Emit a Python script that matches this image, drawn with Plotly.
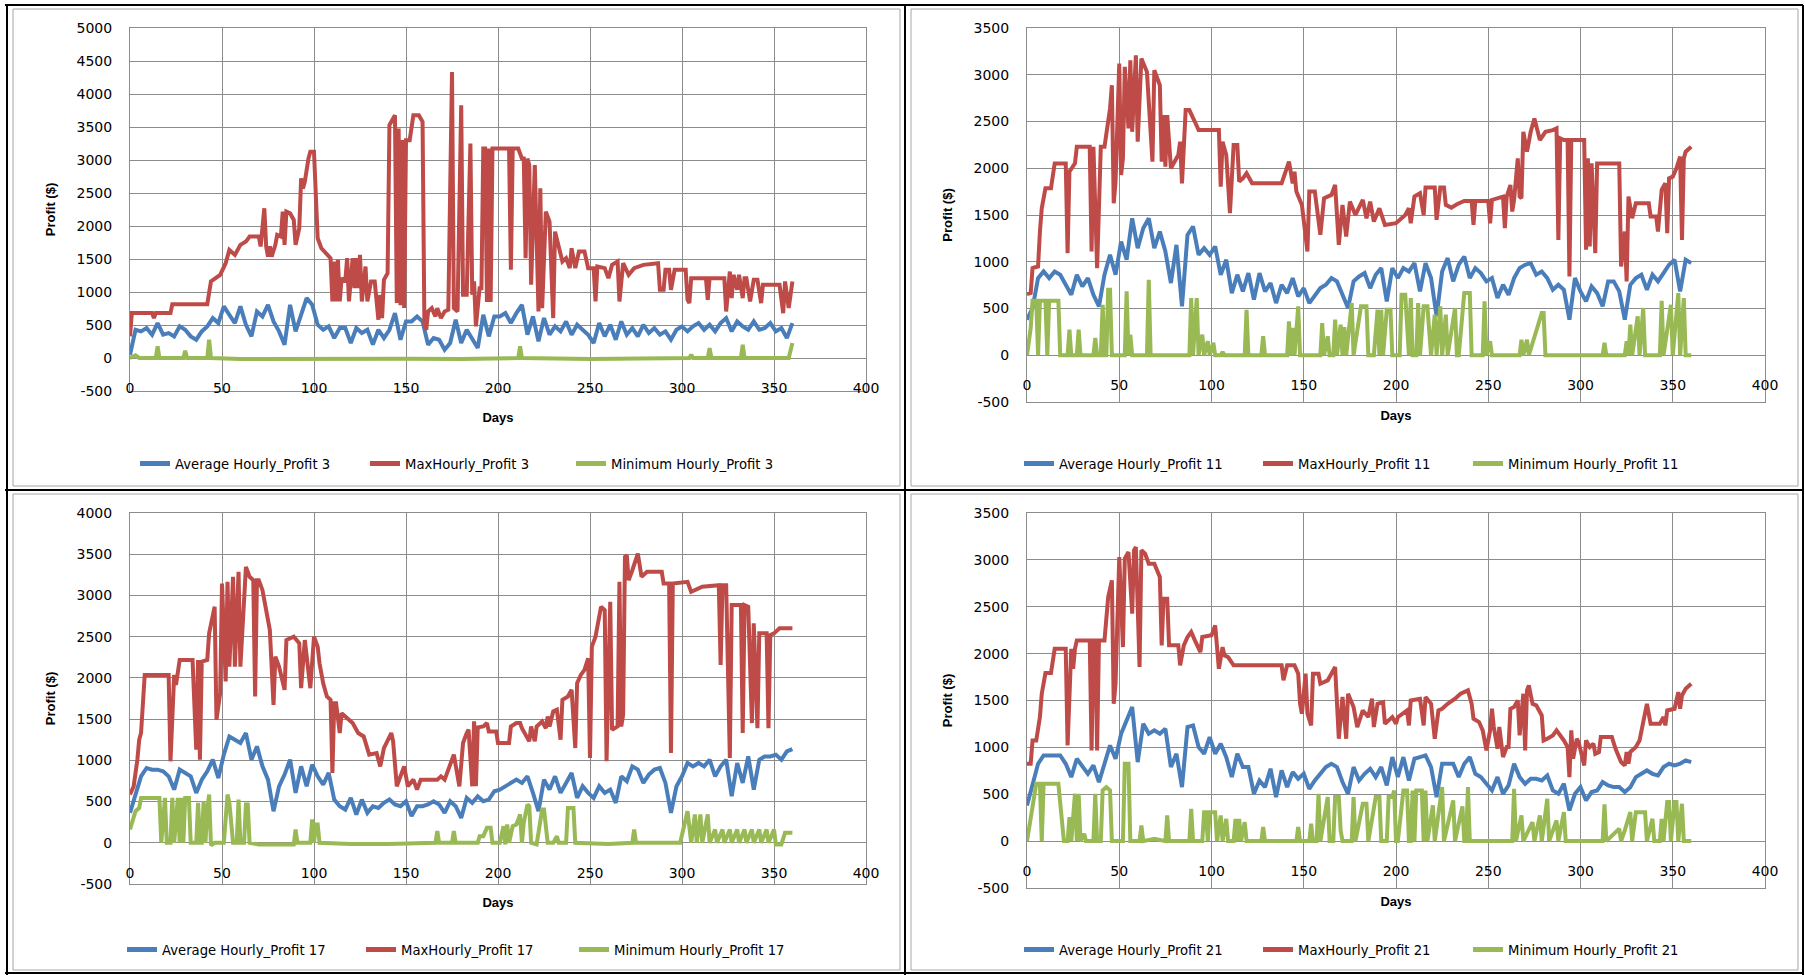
import plotly.graph_objects as go

# ---------------- data ----------------
days_avg = list(range(0, 361, 3))

avg_3 = [50, 428, 403, 454, 353, 529, 353, 378, 328, 479, 428, 328, 277, 403, 479, 605, 529, 781, 655, 529,
         781, 504, 328, 705, 630, 806, 554, 403, 202, 806, 403, 655, 907, 806, 504, 428, 479, 302, 454, 454,
         227, 454, 378, 428, 202, 428, 302, 428, 680, 277, 554, 554, 630, 554, 202, 302, 277, 126, 227, 580,
         227, 428, 277, 151, 655, 328, 630, 630, 680, 529, 680, 806, 353, 630, 252, 605, 353, 479, 403, 554,
         353, 504, 428, 353, 227, 529, 328, 504, 277, 554, 353, 454, 328, 504, 378, 454, 353, 403, 277, 428,
         479, 403, 479, 529, 428, 504, 403, 529, 605, 403, 554, 479, 428, 554, 428, 454, 529, 403, 454, 302, 529]

max_3 = [(0, 330), (1, 680), (12, 680), (13, 605), (14, 680), (22, 680), (23, 816), (42, 816), (44, 1160),
         (47, 1210), (49, 1260), (52, 1436), (54, 1638), (57, 1562), (60, 1714), (63, 1764), (65, 1840),
         (70, 1840), (71, 1690), (73, 2268), (74, 1690), (75, 1537), (76, 1690), (77, 1537), (79, 1714),
         (80, 1865), (82, 1840), (83, 2218), (84, 1714), (85, 2218), (87, 2192), (89, 2092), (90, 1714),
         (92, 1966), (93, 2722), (94, 2570), (95, 2671), (97, 3024), (98, 3125), (100, 3125), (101, 2369),
         (102, 1814), (104, 1663), (107, 1562), (109, 1512), (110, 857), (111, 1462), (112, 857), (113, 1487),
         (114, 857), (115, 1210), (117, 1160), (118, 1512), (119, 857), (121, 1512), (122, 1058), (123, 1512),
         (124, 1058), (125, 1562), (126, 857), (128, 1386), (129, 857), (131, 1160), (133, 1160), (135, 580),
         (136, 957), (137, 605), (138, 1184), (140, 1285), (141, 3528), (143, 3629), (144, 3679), (145, 832),
         (146, 3478), (147, 800), (148, 3301), (149, 756), (150, 3301), (152, 3301), (154, 3679), (157, 3679),
         (159, 3578), (160, 504), (161, 428), (162, 705), (164, 756), (166, 630), (167, 756), (169, 605),
         (171, 705), (173, 730), (175, 4334), (176, 756), (178, 705), (180, 3830), (181, 957), (183, 957),
         (185, 3250), (186, 957), (187, 1160), (188, 479), (190, 1058), (191, 1058), (192, 3175), (193, 3175),
         (194, 850), (195, 3175), (196, 850), (197, 3175), (206, 3175), (207, 1336), (208, 3175), (211, 3175),
         (213, 3024), (214, 3024), (215, 1512), (216, 3024), (217, 2923), (218, 1109), (220, 2923), (222, 705),
         (223, 2570), (224, 756), (226, 2218), (228, 2066), (230, 605), (231, 1915), (233, 1663), (235, 1462),
         (237, 1512), (239, 1361), (240, 1663), (242, 1361), (244, 1613), (247, 1613), (249, 1361), (252, 1361),
         (253, 857), (254, 1386), (258, 1361), (260, 1210), (262, 1411), (265, 1462), (266, 857), (268, 1436),
         (271, 1260), (274, 1361), (279, 1411), (284, 1436), (287, 1436), (288, 1033), (290, 1033), (291, 1336),
         (293, 1336), (294, 1033), (296, 1336), (302, 1336), (303, 882), (304, 832), (305, 1210), (313, 1210),
         (314, 882), (315, 1210), (323, 1210), (324, 705), (326, 1310), (327, 907), (328, 1260), (330, 1033),
         (331, 1260), (333, 907), (334, 1210), (335, 1210), (336, 1008), (337, 857), (339, 1184), (341, 1184),
         (343, 832), (344, 1109), (353, 1109), (355, 680), (356, 1160), (358, 756), (360, 1160)]

min_3 = [(0, 0), (3, 40), (5, 0), (14, 0), (15, 176), (16, 0), (29, 0), (30, 111), (31, 0), (42, 0), (43, 277),
         (44, 0), (60, -15), (90, -10), (120, -15), (150, -10), (180, -15), (211, 0), (212, 176), (213, 0),
         (250, -15), (280, -10), (304, 0), (305, 50), (306, 0), (314, 0), (315, 151), (316, 0), (332, 0),
         (333, 202), (334, 0), (358, 0), (360, 227)]

avg_11 = [381, 505, 825, 896, 825, 896, 861, 754, 647, 861, 736, 825, 647, 523, 861, 1074, 861, 1217, 1021, 1465,
          1145, 1359, 1465, 1145, 1323, 1110, 772, 1181, 523, 1288, 1377, 1074, 1145, 1074, 1163, 861, 1021, 665,
          861, 683, 879, 594, 879, 683, 772, 558, 754, 665, 825, 630, 718, 558, 647, 718, 754, 825, 790, 647, 505,
          790, 843, 879, 718, 861, 932, 576, 932, 825, 932, 896, 985, 683, 985, 825, 416, 896, 1039, 790, 968,
          1056, 825, 932, 879, 790, 825, 612, 754, 647, 825, 932, 968, 985, 861, 896, 825, 700, 754, 700, 381,
          825, 683, 576, 736, 665, 523, 790, 790, 683, 381, 754, 825, 861, 700, 861, 790, 879, 968, 1021, 683,
          1021, 985]

max_11 = [(0, 654), (2, 665), (3, 932), (6, 950), (7, 1323), (8, 1572), (10, 1786), (13, 1786), (15, 2052),
          (21, 2052), (22, 1092), (23, 1963), (26, 2052), (27, 2230), (34, 2230), (35, 1110), (36, 2230), (38, 932),
          (40, 2230), (42, 2230), (45, 2639), (46, 2888), (47, 1626), (48, 1857), (50, 3120), (51, 1928), (52, 2106),
          (53, 3084), (55, 2426), (56, 3155), (57, 2390), (59, 3208), (60, 2284), (62, 3173), (65, 3031), (68, 2070),
          (69, 3048), (72, 2888), (73, 2070), (74, 2568), (75, 2017), (76, 2568), (78, 2000), (80, 2070), (82, 2141),
          (83, 2284), (84, 1839), (86, 2622), (88, 2622), (91, 2497), (93, 2408), (104, 2408), (105, 1803),
          (106, 2284), (108, 2141), (110, 1519), (112, 2248), (114, 2248), (115, 1857), (117, 1892), (119, 1946),
          (122, 1839), (138, 1839), (142, 2070), (144, 1839), (145, 1963), (146, 1750), (149, 1608), (152, 1110),
          (153, 1750), (156, 1750), (159, 1288), (161, 1679), (165, 1715), (167, 1821), (169, 1181), (171, 1608),
          (173, 1270), (175, 1643), (178, 1501), (182, 1661), (184, 1465), (186, 1643), (188, 1430), (191, 1572),
          (194, 1394), (200, 1412), (205, 1501), (207, 1572), (208, 1412), (210, 1697), (213, 1732), (215, 1501),
          (216, 1793), (221, 1793), (222, 1448), (224, 1793), (226, 1793), (227, 1608), (230, 1579), (233, 1615),
          (237, 1650), (241, 1650), (242, 1394), (243, 1650), (250, 1650), (251, 1412), (252, 1661), (258, 1697),
          (259, 1359), (260, 1697), (262, 1821), (263, 1537), (264, 1661), (266, 2106), (267, 1697), (268, 1680),
          (269, 2390), (271, 2177), (273, 2390), (275, 2533), (278, 2301), (281, 2390), (285, 2408), (287, 2426),
          (288, 1234), (289, 2319), (291, 2301), (293, 2301), (294, 843), (295, 2301), (302, 2301), (303, 1128),
          (304, 2106), (305, 1163), (306, 2052), (308, 1092), (309, 2052), (321, 2052), (322, 950), (324, 1323),
          (325, 790), (326, 1697), (328, 1465), (330, 1625), (337, 1625), (338, 1483), (341, 1483), (342, 1323),
          (344, 1768), (346, 1839), (347, 1305), (348, 1892), (350, 1910), (352, 1999), (354, 2124), (355, 1234),
          (356, 2106), (357, 2177), (360, 2230)]

min_11 = [(0, 0), (2, 290), (3, 583), (5, 583), (6, 0), (7, 583), (10, 583), (11, 0), (12, 583), (17, 583), (18, 0),
          (22, 0), (23, 274), (24, 0), (27, 0), (28, 274), (29, 0), (36, 0), (37, 185), (38, 0), (40, 0), (41, 540),
          (42, 0), (43, 0), (44, 700), (45, 700), (46, 0), (53, 0), (54, 683), (55, 0), (56, 220), (57, 0), (65, 0),
          (66, 807), (67, 0), (88, 0), (89, 612), (90, 0), (92, 612), (93, 0), (95, 220), (96, 0), (98, 150),
          (99, 0), (101, 132), (102, 0), (105, 0), (106, 36), (107, 0), (118, 0), (119, 487), (120, 0), (127, 0),
          (128, 203), (129, 0), (141, 0), (142, 363), (143, 0), (144, 292), (145, 0), (147, 523), (148, 0),
          (159, 0), (160, 345), (161, 0), (163, 203), (164, 0), (166, 0), (167, 380), (168, 0), (170, 327),
          (171, 0), (172, 300), (173, 0), (176, 558), (177, 0), (181, 523), (184, 523), (185, 0), (188, 0),
          (190, 487), (191, 0), (192, 487), (193, 0), (195, 487), (197, 487), (198, 0), (202, 0), (203, 647),
          (205, 647), (207, 0), (208, 612), (209, 0), (211, 0), (212, 558), (213, 0), (215, 523), (217, 523),
          (219, 0), (221, 434), (222, 0), (224, 523), (225, 0), (227, 434), (228, 0), (232, 505), (233, 0),
          (234, 0), (237, 665), (240, 665), (241, 0), (247, 0), (248, 576), (249, 0), (251, 150), (252, 0),
          (267, 0), (268, 167), (269, 0), (271, 167), (272, 0), (279, 452), (280, 452), (281, 0), (312, 0),
          (313, 132), (314, 0), (324, 0), (325, 150), (326, 0), (327, 327), (328, 0), (331, 416), (332, 0),
          (334, 505), (335, 0), (343, 0), (344, 583), (345, 0), (349, 540), (350, 0), (353, 665), (354, 0),
          (356, 612), (357, 0), (360, 0)]

avg_17 = [363, 605, 806, 907, 887, 887, 867, 806, 645, 887, 847, 806, 605, 766, 867, 1008, 786, 1069, 1290, 1250,
          1210, 1331, 1008, 1169, 927, 766, 383, 685, 827, 1008, 605, 927, 685, 948, 806, 706, 847, 524, 443, 403,
          544, 343, 524, 363, 443, 423, 484, 524, 464, 443, 504, 323, 443, 443, 464, 504, 464, 363, 504, 443, 302,
          544, 484, 564, 504, 524, 625, 645, 685, 726, 766, 726, 806, 605, 383, 766, 645, 806, 605, 726, 847, 544,
          685, 605, 544, 685, 605, 645, 484, 806, 746, 927, 887, 726, 827, 887, 907, 726, 363, 685, 806, 968, 927,
          968, 927, 1008, 806, 927, 1008, 564, 968, 726, 1048, 645, 1008, 1048, 1048, 1069, 1008, 1109, 1137]

max_17 = [(0, 585), (2, 685), (4, 1008), (5, 1250), (6, 1331), (8, 2036), (21, 2036), (22, 988), (24, 2036),
          (25, 1915), (27, 2218), (34, 2218), (36, 1129), (37, 2218), (38, 1008), (39, 2197), (42, 2218), (43, 2540),
          (46, 2863), (47, 1492), (49, 1814), (50, 3145), (52, 1956), (53, 3165), (54, 2137), (56, 3226), (57, 2137),
          (59, 3286), (60, 2137), (63, 3347), (65, 3226), (67, 3185), (68, 1774), (69, 3185), (70, 3185), (72, 3064),
          (74, 2822), (76, 2580), (78, 1673), (79, 2258), (81, 2137), (84, 1855), (85, 2459), (89, 2500), (92, 2419),
          (93, 1875), (95, 2459), (98, 1875), (100, 2500), (102, 2379), (103, 2177), (105, 1935), (107, 1774),
          (109, 1734), (110, 847), (111, 1693), (112, 1693), (114, 1331), (115, 1572), (119, 1492), (121, 1452),
          (124, 1331), (127, 1290), (130, 1069), (134, 1089), (136, 927), (138, 1149), (142, 1331), (143, 1230),
          (145, 685), (147, 800), (149, 927), (151, 685), (154, 766), (156, 645), (158, 766), (167, 766), (169, 806),
          (171, 766), (174, 968), (176, 1069), (179, 685), (181, 1210), (183, 1331), (184, 1371), (186, 685),
          (187, 1472), (188, 685), (189, 1400), (192, 1411), (194, 1452), (195, 1351), (199, 1351), (200, 1210),
          (206, 1210), (207, 1411), (210, 1452), (212, 1452), (213, 1390), (217, 1230), (218, 1411), (220, 1230),
          (221, 1411), (224, 1472), (226, 1390), (227, 1532), (228, 1411), (230, 1593), (232, 1613), (234, 1250),
          (235, 1734), (238, 1774), (240, 1855), (242, 1149), (243, 1935), (245, 2036), (247, 2097), (249, 2238),
          (250, 1028), (251, 2379), (253, 2500), (256, 2863), (258, 2822), (259, 988), (261, 2923), (262, 1371),
          (265, 1411), (266, 3165), (267, 1411), (268, 1552), (269, 3468), (270, 3488), (271, 3185), (273, 3306),
          (276, 3508), (278, 3226), (281, 3286), (289, 3286), (290, 3145), (293, 3145), (294, 1089), (295, 3145),
          (303, 3165), (305, 3044), (307, 3064), (311, 3105), (320, 3125), (321, 2157), (322, 3125), (324, 3125),
          (326, 1028), (327, 2883), (332, 2883), (333, 1331), (334, 2883), (336, 2863), (338, 1452), (339, 2661),
          (341, 1391), (342, 2540), (346, 2540), (347, 1391), (348, 2520), (350, 2540), (353, 2601), (360, 2601)]

min_17 = [(0, 161), (3, 383), (5, 423), (6, 544), (16, 544), (17, 0), (19, 544), (20, 0), (22, 0), (23, 544),
          (24, 0), (26, 544), (27, 0), (28, 544), (29, 0), (30, 544), (32, 544), (33, 0), (36, 0), (37, 484),
          (38, 0), (39, 0), (40, 504), (41, 0), (42, 403), (43, 585), (44, -30), (46, 0), (51, 0), (53, 585),
          (54, 484), (56, 0), (58, 0), (59, 524), (60, 0), (62, 0), (63, 464), (64, 464), (65, 0), (70, -20),
          (89, -20), (90, 161), (91, 0), (98, 0), (99, 282), (100, 0), (101, 222), (102, 222), (103, 0),
          (120, -15), (140, -15), (166, 0), (167, 141), (168, 0), (175, 0), (176, 141), (177, 0), (189, 0),
          (190, 80), (192, 80), (194, 181), (196, 181), (197, 0), (201, 0), (203, 202), (204, -20), (205, 222),
          (206, 0), (208, 202), (210, 222), (212, 343), (213, 0), (214, 242), (216, 464), (217, 443), (218, 0),
          (221, -20), (224, 403), (225, 403), (227, 0), (230, 0), (232, 80), (233, 0), (237, 0), (238, 423),
          (241, 423), (242, 0), (260, -15), (273, 0), (274, 161), (275, 0), (299, 0), (303, 383), (305, 0),
          (307, 343), (308, 0), (310, 343), (311, 0), (314, 343), (315, 0), (318, 161), (319, 0), (322, 161),
          (323, 0), (326, 161), (327, 0), (330, 161), (331, 0), (334, 161), (335, 0), (338, 161), (339, 0),
          (342, 161), (343, 0), (346, 161), (347, 0), (350, 161), (351, -20), (354, -20), (356, 121), (360, 121)]

avg_21 = [381, 612, 825, 914, 914, 914, 914, 825, 683, 879, 790, 718, 807, 630, 825, 1021, 879, 1145, 1288, 1430,
          843, 1252, 1145, 1181, 1145, 1199, 790, 932, 576, 1217, 1234, 1003, 932, 1110, 932, 1039, 896, 683, 932,
          790, 790, 505, 647, 576, 772, 469, 754, 576, 736, 665, 718, 558, 647, 718, 790, 825, 790, 630, 505, 790,
          647, 718, 772, 683, 790, 594, 896, 683, 896, 647, 879, 896, 914, 790, 469, 825, 825, 825, 683, 825, 896,
          718, 683, 612, 540, 683, 505, 594, 825, 683, 612, 665, 665, 647, 700, 540, 505, 612, 327, 505, 576, 434,
          523, 540, 630, 594, 576, 576, 523, 576, 683, 718, 754, 718, 700, 790, 825, 807, 825, 861, 843]

max_21 = [(0, 825), (2, 825), (3, 1074), (5, 1074), (7, 1323), (8, 1572), (10, 1793), (13, 1793), (15, 2052),
          (21, 2052), (22, 1021), (24, 2052), (25, 1839), (26, 2052), (27, 2141), (34, 2141), (35, 968), (36, 2141),
          (37, 2141), (38, 968), (39, 2141), (42, 2141), (44, 2604), (46, 2782), (47, 1465), (48, 1679), (50, 3031),
          (52, 2070), (53, 3013), (55, 3084), (57, 2426), (58, 3102), (59, 3137), (61, 1857), (62, 3102), (64, 3066),
          (66, 2959), (69, 2959), (72, 2817), (73, 2088), (74, 2586), (76, 2586), (77, 2088), (82, 2088), (83, 1875),
          (85, 2088), (87, 2177), (89, 2230), (91, 2141), (94, 2017), (95, 2177), (97, 2185), (100, 2195),
          (102, 2301), (104, 1839), (106, 2070), (107, 1981), (109, 1963), (112, 1875), (138, 1875), (139, 1715),
          (141, 1875), (145, 1875), (147, 1786), (148, 1465), (149, 1359), (151, 1786), (152, 1359), (154, 1234),
          (155, 1786), (158, 1786), (159, 1679), (163, 1715), (167, 1857), (169, 1092), (171, 1537), (173, 1092),
          (174, 1572), (177, 1430), (179, 1217), (182, 1394), (185, 1323), (187, 1519), (188, 1217), (190, 1465),
          (193, 1483), (194, 1252), (198, 1323), (200, 1252), (201, 1323), (204, 1359), (206, 1394), (207, 1234),
          (208, 1501), (213, 1519), (215, 1234), (216, 1537), (219, 1465), (221, 1092), (223, 1394), (225, 1412),
          (228, 1465), (232, 1519), (235, 1572), (239, 1608), (241, 1465), (242, 1305), (245, 1270), (247, 1181),
          (249, 968), (251, 1181), (252, 1412), (253, 1217), (255, 985), (256, 1217), (258, 896), (260, 1003),
          (261, 1003), (262, 1412), (264, 1430), (266, 1501), (267, 1128), (269, 1572), (270, 968), (271, 1608),
          (272, 1661), (274, 1465), (276, 1448), (279, 1341), (280, 1074), (282, 1092), (285, 1128), (287, 1181),
          (289, 1128), (291, 1074), (293, 1003), (294, 683), (295, 1181), (296, 879), (298, 1092), (299, 1056),
          (302, 807), (303, 1074), (305, 1003), (307, 1039), (308, 932), (310, 950), (311, 1110), (317, 1110),
          (319, 985), (321, 879), (322, 843), (324, 807), (325, 950), (326, 825), (327, 950), (330, 1003),
          (332, 1074), (334, 1270), (336, 1465), (338, 1252), (343, 1252), (345, 1323), (346, 1234), (347, 1394),
          (351, 1412), (353, 1590), (354, 1412), (355, 1554), (357, 1625), (360, 1679)]

min_21 = [(0, 0), (5, 612), (7, 612), (8, 0), (9, 612), (17, 612), (20, 0), (22, 0), (23, 256), (24, 0), (26, 505),
          (27, 0), (28, 505), (29, 0), (31, 78), (32, 0), (36, 0), (37, 505), (38, 0), (40, 0), (41, 540), (43, 576),
          (45, 540), (46, 0), (52, 0), (53, 825), (55, 825), (56, 0), (61, 0), (62, 167), (63, 0), (69, 25), (75, 0),
          (76, 274), (77, 0), (88, 0), (89, 345), (90, 0), (95, 0), (96, 309), (97, 309), (98, 0), (99, 309),
          (102, 309), (103, 0), (105, 274), (106, 0), (108, 238), (109, 0), (112, 0), (113, 238), (114, 0),
          (115, 238), (116, 0), (118, 203), (119, 0), (127, 0), (128, 150), (129, 0), (146, 0), (147, 150),
          (148, 0), (153, 0), (154, 185), (155, 0), (157, 0), (158, 505), (159, 0), (163, 470), (164, 0), (166, 0),
          (167, 470), (169, 470), (170, 114), (171, 0), (176, 0), (177, 470), (178, 0), (182, 398), (184, 398),
          (185, 0), (189, 470), (191, 470), (192, 0), (195, 0), (196, 470), (198, 470), (199, 540), (200, 0),
          (201, 0), (204, 540), (206, 540), (207, 0), (208, 0), (209, 540), (210, 0), (211, 540), (214, 540),
          (215, 0), (216, 540), (217, 0), (220, 381), (221, 0), (225, 576), (226, 0), (231, 434), (232, 0),
          (235, 274), (236, 370), (237, 0), (238, 0), (239, 576), (240, 0), (263, 0), (264, 558), (265, 0),
          (268, 274), (269, 0), (274, 203), (275, 0), (278, 274), (279, 0), (282, 452), (283, 0), (287, 220),
          (288, 0), (291, 309), (292, 0), (312, 0), (313, 391), (314, 0), (321, 132), (322, 0), (324, 114),
          (327, 309), (328, 0), (330, 309), (333, 309), (335, 309), (336, 0), (339, 238), (340, 0), (343, 0),
          (344, 238), (345, 0), (347, 416), (348, 416), (349, 0), (351, 416), (352, 416), (353, 0), (355, 398),
          (356, 0), (360, 0)]

x_ticks = [0, 50, 100, 150, 200, 250, 300, 350, 400]
y_tops = {"3": 5000, "11": 3500, "17": 4000, "21": 3500}

# ---------------- figure ----------------
W, H = 1805, 975
BLUE, RED, GREEN = "#4a7ebb", "#be4b48", "#98b954"
GRID = "#8c8c8c"
TICKFONT = dict(family="DejaVu Sans", size=14, color="#000000")
TITLEFONT = dict(family="Liberation Sans", size=13, color="#000000", weight="bold")
LEGFONT = dict(family="DejaVu Sans", size=13.2, color="#000000")


def px_x(v):
    return v / W


def px_y(v):
    return 1 - v / H


# plot boxes (pixel) and legend entry start positions (pixel) for each panel
panels = [
    dict(key="3", avg=avg_3, mx=max_3, mn=min_3, box=(130, 866, 28, 391), leg_x=(140, 370, 576), leg_y=464),
    dict(key="11", avg=avg_11, mx=max_11, mn=min_11, box=(1027, 1765, 28, 402), leg_x=(1024, 1263, 1473),
         leg_y=464),
    dict(key="17", avg=avg_17, mx=max_17, mn=min_17, box=(130, 866, 513, 884), leg_x=(127, 366, 579), leg_y=950),
    dict(key="21", avg=avg_21, mx=max_21, mn=min_21, box=(1027, 1765, 513, 888), leg_x=(1024, 1263, 1473),
         leg_y=950),
]

fig = go.Figure()
layout = dict(width=W, height=H, margin=dict(l=0, r=0, t=0, b=0, autoexpand=False), paper_bgcolor="white",
              plot_bgcolor="white", showlegend=True)

leg_n = 0
for i, p in enumerate(panels, start=1):
    sfx = "" if i == 1 else str(i)
    xa, ya = "x" + sfx, "y" + sfx
    k = p["key"]
    ytop = y_tops[k]
    x0, x1, y0, y1 = p["box"]
    xdom = [px_x(x0), px_x(x1)]
    ydom = [px_y(y1), px_y(y0)]

    series = [
        ("Average Hourly_Profit " + k, days_avg, p["avg"], BLUE),
        ("MaxHourly_Profit " + k, [d for d, _ in p["mx"]], [v for _, v in p["mx"]], RED),
        ("Minimum Hourly_Profit " + k, [d for d, _ in p["mn"]], [v for _, v in p["mn"]], GREEN),
    ]
    for j, (name, xs, ys, col) in enumerate(series):
        leg_n += 1
        lname = "legend" if leg_n == 1 else "legend" + str(leg_n)
        fig.add_trace(go.Scatter(x=xs, y=ys, mode="lines", name=name, xaxis=xa, yaxis=ya, legend=lname,
                                 line=dict(color=col, width=4)))
        layout[lname] = dict(orientation="h", x=px_x(p["leg_x"][j] - 5), xanchor="left", y=px_y(p["leg_y"]),
                             yanchor="middle", font=LEGFONT, bgcolor="rgba(0,0,0,0)", borderwidth=0,
                             itemsizing="constant")

    yvals = list(range(-500, ytop + 1, 500))
    layout["xaxis" + sfx] = dict(domain=xdom, range=[0, 400], anchor=ya, tickvals=x_ticks,
                                 showticklabels=False, showgrid=True, gridcolor=GRID, gridwidth=1,
                                 showline=True, linecolor=GRID, linewidth=1, mirror=True, zeroline=False,
                                 ticks="", automargin=False)
    layout["yaxis" + sfx] = dict(domain=ydom, range=[-500, ytop], anchor=xa, tickmode="array",
                                 tickvals=yvals, ticktext=[str(v) for v in yvals], tickfont=TICKFONT,
                                 showgrid=True, gridcolor=GRID, gridwidth=1, showline=True, linecolor=GRID,
                                 linewidth=1, mirror=True, zeroline=False, ticks="outside", ticklen=14,
                                 tickcolor="rgba(0,0,0,0)", automargin=False,
                                 title=dict(text="Profit ($)", font=TITLEFONT, standoff=18))
    # axis carrying the day labels, placed at the zero level (Excel-style crossing)
    zero_pos = ydom[0] + (0 - (-500)) / (ytop + 500) * (ydom[1] - ydom[0])
    oname = "xaxis" + str(i + 4)
    layout[oname] = dict(overlaying=xa, anchor="free", position=zero_pos, range=[0, 400], tickvals=x_ticks,
                         ticktext=[str(t) for t in x_ticks], tickfont=TICKFONT, showgrid=False,
                         showline=False, zeroline=False, ticks="outside", ticklen=17,
                         tickcolor="rgba(0,0,0,0)", side="bottom", automargin=False,
                         title=dict(text="Days", font=TITLEFONT, standoff=18))

# invisible helper traces so the overlay label axes render
for i in range(1, 5):
    fig.add_trace(go.Scatter(x=[0], y=[0], mode="markers", marker=dict(opacity=0), showlegend=False,
                             hoverinfo="skip", xaxis="x" + str(i + 4), yaxis="y" if i == 1 else "y" + str(i)))

shapes = []
for (xa_, ya_, xb_, yb_) in [(5, 5, 1803, 5), (7, 5, 7, 975), (1803, 5, 1803, 975), (5, 973, 1803, 973),
                             (905, 5, 905, 975), (5, 490, 1803, 490)]:
    shapes.append(dict(type="line", xref="paper", yref="paper", x0=px_x(xa_), y0=px_y(ya_), x1=px_x(xb_),
                       y1=px_y(yb_), line=dict(color="#000000", width=2)))
for (xa_, ya_, xb_, yb_) in [(13, 9, 900, 486), (911, 9, 1798, 486), (13, 494, 900, 970), (911, 494, 1798, 970)]:
    shapes.append(dict(type="rect", xref="paper", yref="paper", x0=px_x(xa_), y0=px_y(yb_), x1=px_x(xb_),
                       y1=px_y(ya_), line=dict(color="#a6a6a6", width=1)))
layout["shapes"] = shapes

fig.update_layout(**layout)
fig.write_html("out.html")
